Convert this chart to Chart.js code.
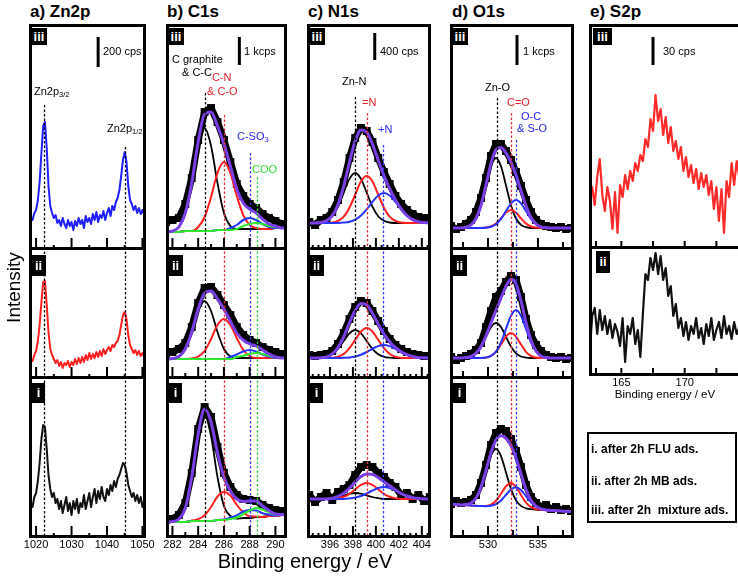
<!DOCTYPE html>
<html><head><meta charset="utf-8">
<script src="https://cdn.jsdelivr.net/npm/chart.js@4.4.1/dist/chart.umd.min.js"></script>
<style>
html,body{margin:0;padding:0;background:#fff;}
#stage{position:relative;width:738px;height:579px;overflow:hidden;font-family:'Liberation Sans',Arial,Helvetica,sans-serif;color:#000;}
canvas{position:absolute;z-index:1;}
.t{position:absolute;white-space:pre;line-height:1;font-size:11px;z-index:2;}
.t sub{font-size:7.5px;vertical-align:-2px;line-height:0;}
.ttl{position:absolute;white-space:pre;line-height:1;font-size:17px;font-weight:bold;z-index:2;}
.rl{position:absolute;background:#000;color:#fff;font-weight:bold;font-size:13px;text-align:center;z-index:3;}
.red{color:#e8202a}.blue{color:#2424f0}.green{color:#2fd82f}
#legend{position:absolute;left:587px;top:432px;width:150px;height:91px;box-sizing:border-box;border:2px solid #000;z-index:2;}
#legend div{position:absolute;left:2px;white-space:pre;font-weight:bold;font-size:12px;line-height:1;}
</style></head><body><div id="stage">
<div class="ttl" style="left:30px;top:3px">a) Zn2p</div>
<div class="ttl" style="left:167px;top:3px">b) C1s</div>
<div class="ttl" style="left:308px;top:3px">c) N1s</div>
<div class="ttl" style="left:452px;top:3px">d) O1s</div>
<div class="ttl" style="left:590px;top:3px">e) S2p</div>

<div class="t" style="left:103px;top:46px">200 cps</div>
<div class="t" style="left:244px;top:46px">1 kcps</div>
<div class="t" style="left:380px;top:46px">400 cps</div>
<div class="t" style="left:523px;top:46px">1 kcps</div>
<div class="t" style="left:663px;top:46px">30 cps</div>

<div class="t" style="left:34px;top:86px">Zn2p<sub>3/2</sub></div>
<div class="t" style="left:107px;top:123px">Zn2p<sub>1/2</sub></div>

<div class="t" style="left:172px;top:54px">C graphite</div>
<div class="t" style="left:182px;top:67px">&amp; C-C</div>
<div class="t red" style="left:212px;top:72px">C-N</div>
<div class="t red" style="left:207px;top:86px">&amp; C-O</div>
<div class="t blue" style="left:237px;top:131px">C-SO<sub>3</sub></div>
<div class="t green" style="left:252px;top:164px">COO</div>

<div class="t" style="left:342px;top:76px">Zn-N</div>
<div class="t red" style="left:362px;top:97px">=N</div>
<div class="t blue" style="left:378px;top:124px">+N</div>

<div class="t" style="left:485px;top:82px">Zn-O</div>
<div class="t red" style="left:507px;top:97px">C=O</div>
<div class="t blue" style="left:521px;top:111px">O-C</div>
<div class="t blue" style="left:517px;top:123px">&amp; S-O</div>

<div id="legend">
<div style="top:9px">i. after 2h FLU ads.</div>
<div style="top:41px">ii. after 2h MB ads.</div>
<div style="top:70px">iii. after 2h  mixture ads.</div>
</div>

<div style="position:absolute;left:-87px;top:278px;width:200px;height:19px;line-height:19px;font-size:19px;text-align:center;transform:rotate(-90deg);z-index:2">Intensity</div>
<div style="position:absolute;left:105px;top:551px;width:400px;line-height:1;font-size:20px;text-align:center;z-index:2">Binding energy / eV</div>
</div>
<script>
// ===================== DATA =====================
// a) Zn2p
const znEnergy = [1018,1018.5,1019,1019.5,1020,1020.5,1021,1021.5,1022,1022.5,1023,1023.5,1024,1024.5,1025,1025.5,1026,1026.5,1027,1027.5,1028,1028.5,1029,1029.5,1030,1030.5,1031,1031.5,1032,1032.5,1033,1033.5,1034,1034.5,1035,1035.5,1036,1036.5,1037,1037.5,1038,1038.5,1039,1039.5,1040,1040.5,1041,1041.5,1042,1042.5,1043,1043.5,1044,1044.5,1045,1045.5,1046,1046.5,1047,1047.5,1048,1048.5,1049,1049.5,1050,1050.5,1051];
const znMixture = [22,30,28,35,38,48,66,95,122,126,100,62,42,35,30,33,25,28,22,30,24,20,28,22,26,18,27,22,30,24,28,20,32,26,30,24,34,28,36,26,33,30,37,28,35,40,32,42,38,46,50,58,72,88,96,86,62,48,44,38,42,35,40,34,38,33,36];
const znMB = [14,18,16,22,26,36,52,75,95,96,72,45,28,22,18,14,17,11,15,9,14,12,16,10,15,12,18,13,19,14,20,15,22,17,24,18,23,19,25,20,26,21,28,23,27,30,26,32,30,34,36,42,52,62,65,58,42,32,28,24,27,22,26,21,24,20,23];
const znFLU = [24,34,30,40,44,56,74,98,112,110,88,62,48,40,44,34,38,28,36,24,32,40,26,34,22,36,28,38,24,34,30,42,28,36,44,30,40,48,34,46,38,50,40,36,48,42,52,46,56,50,58,62,68,74,72,64,52,46,40,44,36,42,34,40,30,36,32];
const znPeakPos = [1022.3, 1045.0];
const znTickLabels = [1020, 1030, 1040, 1050];

// b) C1s
const c1sEnergy = [281.5,282,282.5,283,283.5,284,284.5,285,285.5,286,286.5,287,287.5,288,288.5,289,289.5,290,290.5,291];
const c1sDataIII = [26,28,30,44,70,108,136,140,126,108,86,64,52,44,40,34,30,27,24,22];
const c1sFitIII = [16,17,21,35,65,106,134,136,122,104,82,59,45,39,35,29,24,22,20,20];
const c1sCCIII = [16,17,21,35,64,102,120,102,65,35,22,19,19,19,19,19,19,20,20,20];
const c1sCNIII = [16,16,16,17,17,21,31,51,75,86,75,52,33,23,20,19,19,20,20,20];
const c1sCSIII = [16,16,16,17,17,17,17,17,18,18,20,23,28,30,28,24,21,20,20,20];
const c1sCOOIII = [16,16,16,17,17,17,17,17,18,18,18,19,22,24,25,24,22,21,20,20];
const c1sDataII = [24,25,28,34,50,74,89,90,82,72,62,50,42,37,34,30,27,25,23,22];
const c1sFitII = [18,18.4,20.5,28,45,68,84,86,78,68,56,44,37,33,31,27,23,20,19,19];
const c1sCCII = [18,18.5,20.5,28,45,66,76,66,45,28,20.5,19,19,19,19,19,19,19,19,19];
const c1sCNII = [18,18,18,18,18.5,20.5,26,38,52,58,52,39,27,21,19,19,19,19,19,19];
const c1sCSII = [18,18,18,18,18,18,18,18,18,18,20,22.5,25.5,27,25.5,22.5,20.5,19,19,19];
const c1sCOOII = [18,18,18,18,18,18,18,18,18,18,18,20,21.3,23,24,23,21.3,20,19,19];
const c1sDataI = [17,18,22,34,64,108,130,120,90,64,50,42,38,37,36,32,29,27,26,25];
const c1sFitI = [15,15.4,18,29,60,103,128,115,84,60,46,38,35.5,36,36,31,26.5,23,22.5,22];
const c1sCCI = [15,15.4,18,29,59,101,122,101,60,31,21,18.4,19,19,20,20,21,21,22,22];
const c1sCNI = [15,15,15,15,16.4,17.8,21.8,30,40.5,45,41.5,32,24.8,20.8,20.4,20,21,21,22,22];
const c1sCSI = [15,15,15,15,16,16,16,16,17,17.5,19.5,21.7,25.5,27,26.6,23.7,22.4,21.3,22,22];
const c1sCOOI = [15,15,15,15,16,16,16,16,17,17,18,19.5,23,26.5,29,27.5,25,22.5,22.4,22];
const c1sPeakPos = [284.5, 286.0, 288.0, 288.6];
const c1sTickLabels = [282, 284, 286, 288, 290];

// c) N1s
const n1sEnergy = [393.7,394.2,394.7,395.2,395.7,396.2,396.7,397.2,397.7,398.2,398.7,399.2,399.7,400.2,400.7,401.2,401.7,402.2,402.7,403.2,403.7,404.2,404.7,405.2];
const n1sDataIII = [22,26,23,28,30,36,48,66,90,110,120,117,106,90,76,64,52,44,38,34,31,30,28,27];
const n1sFitIII = [25,25,25,25.5,27.2,32.3,43.4,62,85.7,106.9,118.1,116,104,87.8,72.5,59.3,48.3,39.2,32.5,28.4,26.3,25.4,25,25];
const n1sZnNIII = [25,25,25,25.5,27.2,31.8,41.3,55.4,69.1,75,69.1,55.4,41.3,31.8,27.2,25.5,25,25,25,25,25,25,25,25];
const n1sEqNIII = [25,25,25,25,25,25.5,27.1,31.3,40.3,53.5,66.5,72,66.5,53.5,40.3,31.3,27.1,25.5,25,25,25,25,25,25];
const n1sPlusNIII = [25,25,25,25,25,25,25,25.4,26.3,28.4,32.5,38.7,46.2,52.5,55,52.5,46.2,38.7,32.5,28.4,26.3,25.4,25,25];
const n1sDataII = [20,22,21,22,23,26,33,44,58,70,76,74,66,56,46,38,32,28,25,23,22,21,21,20];
const n1sFitII = [19,19,19,19.3,20.2,23.1,29.4,40.3,54,66.7,73.5,72,63.8,52.9,43,35.3,29.5,25.3,22.3,20.5,19.6,19.2,19,19];
const n1sZnNII = [19,19,19,19.3,20.2,22.8,28.1,36,43.7,47,43.7,36,28.1,22.8,20.2,19.3,19,19,19,19,19,19,19,19];
const n1sEqNII = [19,19,19,19,19,19.3,20.3,23.1,28.8,37.2,45.5,49,45.5,37.2,28.8,23.1,20.3,19.3,19,19,19,19,19,19];
const n1sPlusNII = [19,19,19,19,19,19,19,19.2,19.6,20.5,22.3,25,28.2,30.9,32,30.9,28.2,25,22.3,20.5,19.6,19.2,19,19];
const n1sDataI = [36,42,35,40,44,37,45,48,52,62,70,72,70,64,60,54,50,42,44,38,42,36,40,38];
const n1sFitI = [38,38,38,38,38,38.8,40.7,43.8,49,55.1,60.4,63.1,62.6,59.5,55.2,51.2,47.2,43.5,41,39.4,38.5,38,38,38];
const n1sZnNI = [38,38,38,38,38,38.8,40,41.6,43.3,44,43.3,41.6,40,38.8,38,38,38,38,38,38,38,38,38,38];
const n1sEqNI = [38,38,38,38,38,38,38.7,40.2,43.2,47.7,52.1,54,52.1,47.7,43.2,40.2,38.7,38,38,38,38,38,38,38];
const n1sPlusNI = [38,38,38,38,38,38,38,38,38.5,39.4,41,43.5,46.5,49,50,49,46.5,43.5,41,39.4,38.5,38,38,38];
const n1sPeakPos = [398.2, 399.2, 400.6];
const n1sTickLabels = [396, 398, 400, 402, 404];

// d) O1s
const o1sEnergy = [525.8,526.3,526.8,527.3,527.8,528.3,528.8,529.3,529.8,530.3,530.8,531.3,531.8,532.3,532.8,533.3,533.8,534.3,534.8,535.3,535.8,536.3,536.8,537.3,537.8,538.3,538.8,539.3];
const o1sDataIII = [20,22,19,21,24,28,36,50,70,92,104,104,97,88,76,62,48,36,28,24,22,21,20,21,19,20,21,20];
const o1sFitIII = [20,20,20,20,20.8,23.1,29.5,42.8,63.2,84.4,98.3,100.5,94.9,85.5,72.9,57.5,42.3,30.6,24.2,21.2,20.3,20,20,20,20,20,20,20];
const o1sZnOIII = [20,20,20,20,20.8,23.1,29.5,42.8,62.5,81.7,90,81.7,62.5,42.8,29.5,23.1,20.8,20,20,20,20,20,20,20,20,20,20,20];
const o1sCOIII = [20,20,20,20,20,20,20,20,20.4,21.5,24.5,29.7,35.4,38,35.4,29.7,24.5,21.5,20.4,20,20,20,20,20,20,20,20,20];
const o1sOCIII = [20,20,20,20,20,20,20,20,20.3,21.2,23.8,29.1,37,44.7,48,44.7,37,29.1,23.8,21.2,20.3,20,20,20,20,20,20,20];
const o1sDataII = [18,20,17,19,21,23,27,34,50,66,80,86,95,101,97,80,58,42,32,26,22,20,19,20,18,19,20,19];
const o1sFitII = [19,19,19,19,19.4,20.5,23.7,30.4,41.2,54.1,66.7,79,90.7,97.7,93.1,76.3,54.7,36.7,26,21.1,19.5,19,19,19,19,19,19,19];
const o1sZnOII = [19,19,19,19,19.4,20.5,23.7,30.4,40.2,49.9,54,49.9,40.2,30.4,23.7,20.5,19.4,19,19,19,19,19,19,19,19,19,19,19];
const o1sCOII = [19,19,19,19,19,19,19,19,19.5,21.1,25.2,32.5,40.4,44,40.4,32.5,25.2,21.1,19.5,19,19,19,19,19,19,19,19,19];
const o1sOCII = [19,19,19,19,19,19,19,19,19.5,21.1,25.5,34.6,48.1,61.3,67,61.3,48.1,34.6,25.5,21.1,19.5,19,19,19,19,19,19,19];
const o1sDataI = [35,33,36,34,35,37,42,54,72,92,104,108,106,98,86,70,52,40,34,30,32,28,30,27,28,26,27,25];
const o1sFitI = [33,32.7,32.4,32.1,32.4,34.1,39,49.8,66.5,84.5,97,101.2,98.7,91.5,79,63.1,47.6,36.7,30.8,28.1,27.1,26.6,26.3,26,25.7,25.4,25.1,24.8];
const o1sZnOI = [33,32.7,32.4,32.1,32.4,34.1,39,49.8,65.8,81.5,88,80.9,64.6,48,36.6,31.1,28.7,27.8,27.5,27.2,26.9,26.6,26.3,26,25.7,25.4,25.1,24.8];
const o1sCOI = [33,32.7,32.4,32.1,31.8,31.5,31.2,30.9,31.1,32.4,36.2,43.2,50.8,54.1,50.2,42,34.3,29.9,28,27.2,26.9,26.6,26.3,26,25.7,25.4,25.1,24.8];
const o1sOCI = [33,32.7,32.4,32.1,31.8,31.5,31.2,30.9,30.8,31.2,32.8,36.5,42.1,47.6,49.8,47,40.8,34.6,30.3,28.1,27.1,26.6,26.3,26,25.7,25.4,25.1,24.8];
const o1sPeakPos = [530.9, 532.3, 532.8];
const o1sTickLabels = [530, 535];

// e) S2p
const s2pEnergy = [162.5,162.7,162.9,163.1,163.3,163.5,163.7,163.9,164.1,164.3,164.5,164.7,164.9,165.1,165.3,165.5,165.7,165.9,166.1,166.3,166.5,166.7,166.9,167.1,167.3,167.5,167.7,167.9,168.1,168.3,168.5,168.7,168.9,169.1,169.3,169.5,169.7,169.9,170.1,170.3,170.5,170.7,170.9,171.1,171.3,171.5,171.7,171.9,172.1,172.3,172.5,172.7,172.9,173.1,173.3,173.5,173.7,173.9,174.1,174.3];
const s2pMixture = [48,60,42,70,88,52,36,60,46,18,55,14,62,50,72,58,76,66,84,76,92,86,108,100,128,116,152,126,138,112,130,104,120,96,106,88,100,76,90,70,82,64,78,58,74,60,72,52,66,38,60,26,58,14,66,50,84,62,86,70];
const s2pMB = [20,58,66,40,64,44,58,40,54,36,50,42,28,56,12,48,40,56,30,44,17,60,100,94,116,104,121,100,118,94,106,78,88,58,70,46,56,38,52,34,48,40,56,36,46,30,50,38,56,34,44,52,36,58,40,48,35,52,40,46];
const s2pTickLabels = [165, 170];

// ===================== DRAWING =====================
Chart.defaults.font.family = "'Liberation Sans', Arial, Helvetica, sans-serif";
Chart.defaults.color = '#000';
const stage = document.getElementById('stage');
const M = 20;
const PURPLE = '#7a3fe6', RED = '#ff1f1f', BLUE = '#2633ff', GREEN = '#2ee82e';
const MK = ['#000', '#e0303a', '#3a3aff', '#2fd82f'];

function makeDeco(o) {
  return {
    id: 'deco',
    afterDatasetsDraw(chart) {
      const {ctx, chartArea: a} = chart;
      const x = chart.scales.x, y = chart.scales.y;
      ctx.save();
      ctx.beginPath(); ctx.rect(a.left, a.top, a.right - a.left, a.bottom - a.top); ctx.clip();
      ctx.lineWidth = 1.3; ctx.setLineDash([2.5, 2]);
      for (const m of (o.markers || [])) {
        const px = Math.round(x.getPixelForValue(m.x)) + 0.5;
        const top = (m.from == null) ? a.top : y.getPixelForValue(m.from);
        ctx.strokeStyle = m.color;
        ctx.beginPath(); ctx.moveTo(px, top); ctx.lineTo(px, a.bottom); ctx.stroke();
      }
      ctx.setLineDash([]);
      ctx.strokeStyle = '#000'; ctx.lineWidth = 2;
      for (const t of (o.ticks || [])) {
        const px = x.getPixelForValue(t.v);
        ctx.beginPath(); ctx.moveTo(px, a.bottom); ctx.lineTo(px, a.bottom - t.l); ctx.stroke();
      }
      if (o.bar) {
        const px = x.getPixelForValue(o.bar.x);
        ctx.lineWidth = 3;
        ctx.beginPath(); ctx.moveTo(px, y.getPixelForValue(o.bar.y0)); ctx.lineTo(px, y.getPixelForValue(o.bar.y1)); ctx.stroke();
      }
      ctx.lineWidth = 3;
      ctx.strokeRect(a.left + 1.5, a.top + 1.5, a.right - a.left - 3, a.bottom - a.top - 3);
      ctx.restore();
    }
  };
}

function makeRow(p, r, datasets, deco, axis) {
  const h = r.FB - r.T;
  const axisH = axis ? axis.h : 0;
  const W = p.w + 2 * M, H = h + axisH;
  const cv = document.createElement('canvas');
  cv.width = W; cv.height = H;
  cv.style.left = (p.left - M) + 'px'; cv.style.top = r.T + 'px';
  cv.style.width = W + 'px'; cv.style.height = H + 'px';
  stage.appendChild(cv);
  const xScale = {type: 'linear', min: p.xmin, max: p.xmax, display: !!axis};
  if (axis) {
    Object.assign(xScale, {
      grid: {display: false, drawTicks: false},
      border: {display: false},
      ticks: {autoSkip: false, maxRotation: 0, padding: 0, font: {size: 11}, color: '#000', callback: v => String(v)},
      afterBuildTicks: s => { s.ticks = axis.labels.map(v => ({value: v})); },
      afterFit: s => { s.height = axis.h; },
      title: axis.title ? {display: true, text: axis.title, font: {size: 11.5}, padding: {top: 0, bottom: 4}, color: '#000'} : {display: false}
    });
  }
  return new Chart(cv, {
    type: 'line',
    data: {datasets},
    options: {
      responsive: false, animation: false, events: [],
      layout: {padding: {left: M, right: M, top: 0, bottom: 0}, autoPadding: false},
      plugins: {legend: {display: false}, tooltip: {enabled: false}},
      scales: {x: xScale, y: {type: 'linear', min: r.RB - r.FB, max: r.RB - r.T, display: false}},
      elements: {point: {radius: 0}}
    },
    plugins: [makeDeco(deco)]
  });
}

const pts = (xs, ys) => xs.map((x, i) => ({x, y: ys[i]}));
const curve = (xs, ys, color, w) => ({data: pts(xs, ys), borderColor: color, borderWidth: w, pointRadius: 0, cubicInterpolationMode: 'monotone', fill: false, clip: 0});
const noisy = (xs, ys, color, w) => ({data: pts(xs, ys), borderColor: color, borderWidth: w, pointRadius: 0, tension: 0, fill: false, clip: 0, borderJoinStyle: 'round'});
const dots = (xs, ys) => ({data: pts(xs, ys), borderColor: '#000', borderWidth: 7, pointRadius: 5.6, pointStyle: 'rect', pointBackgroundColor: '#000', pointBorderWidth: 0, tension: 0, fill: false, clip: 0, borderJoinStyle: 'round', borderCapStyle: 'round'});

const ROW = {iii: {T: 24, FB: 250, RB: 248}, ii: {T: 247, FB: 379, RB: 377}, i: {T: 376, FB: 538, RB: 537}};
const ROWE = {iii: {T: 24, FB: 249, RB: 247}, ii: {T: 246, FB: 376, RB: 374}};
const PA = {left: 29, w: 117, xmin: 1018, xmax: 1051};
const PB = {left: 166, w: 121, xmin: 281.5, xmax: 290.9};
const PC = {left: 307, w: 124, xmin: 394, xmax: 404.8};
const PD = {left: 450, w: 124, xmin: 526.2, xmax: 538.6};
const PE = {left: 589, w: 152, xmin: 162.45, xmax: 174.44};

function markers(pos, froms) { return pos.map((x, i) => ({x, color: MK[i], from: froms ? froms[i] : null})); }

// a) Zn2p
const aTicks = [1020, 1025, 1030, 1035, 1040, 1045, 1050].map(v => ({v, l: v % 10 === 0 ? 12 : 5}));
const aMk = pos => pos.map(x => ({x, color: '#000', from: null}));
makeRow(PA, ROW.iii, [noisy(znEnergy, znMixture, '#1f1fff', 2)], {ticks: aTicks, markers: [{x: znPeakPos[0], color: '#000', from: 143}, {x: znPeakPos[1], color: '#000', from: 101}], bar: {x: 1037.5, y0: 181, y1: 211}});
makeRow(PA, ROW.ii, [noisy(znEnergy, znMB, '#ff2020', 2)], {ticks: aTicks, markers: aMk(znPeakPos)});
makeRow(PA, ROW.i, [noisy(znEnergy, znFLU, '#111', 2)], {ticks: aTicks, markers: aMk(znPeakPos)}, {h: 16, labels: znTickLabels});

// b) C1s
const bTicks = [282, 283, 284, 285, 286, 287, 288, 289, 290].map(v => ({v, l: v % 2 === 0 ? 12 : 6}));
const bSets = (d, f, cc, cn, cs, coo) => [curve(c1sEnergy, f, PURPLE, 3), curve(c1sEnergy, coo, GREEN, 2.2), curve(c1sEnergy, cs, BLUE, 2), curve(c1sEnergy, cn, RED, 2), curve(c1sEnergy, cc, '#000', 1.8), dots(c1sEnergy, d)];
makeRow(PB, ROW.iii, bSets(c1sDataIII, c1sFitIII, c1sCCIII, c1sCNIII, c1sCSIII, c1sCOOIII), {ticks: bTicks, markers: markers(c1sPeakPos, [155, 133, 95, 71]), bar: {x: 287.2, y0: 183, y1: 211}});
makeRow(PB, ROW.ii, bSets(c1sDataII, c1sFitII, c1sCCII, c1sCNII, c1sCSII, c1sCOOII), {ticks: bTicks, markers: markers(c1sPeakPos)});
makeRow(PB, ROW.i, bSets(c1sDataI, c1sFitI, c1sCCI, c1sCNI, c1sCSI, c1sCOOI), {ticks: bTicks, markers: markers(c1sPeakPos)}, {h: 16, labels: c1sTickLabels});

// c) N1s
const cTickVals = []; for (let v = 394.5; v <= 404.6; v += 0.5) cTickVals.push(v);
const cTicks = cTickVals.map(v => ({v, l: Math.abs(v % 2) < 0.01 ? 12 : 5}));
const cSets = (d, f, zn, eq, pl) => [curve(n1sEnergy, f, PURPLE, 3), curve(n1sEnergy, pl, BLUE, 2), curve(n1sEnergy, eq, RED, 2), curve(n1sEnergy, zn, '#000', 1.8), dots(n1sEnergy, d)];
makeRow(PC, ROW.iii, cSets(n1sDataIII, n1sFitIII, n1sZnNIII, n1sEqNIII, n1sPlusNIII), {ticks: cTicks, markers: markers(n1sPeakPos, [151, 135, 103]), bar: {x: 399.9, y0: 188, y1: 215}});
makeRow(PC, ROW.ii, cSets(n1sDataII, n1sFitII, n1sZnNII, n1sEqNII, n1sPlusNII), {ticks: cTicks, markers: markers(n1sPeakPos)});
makeRow(PC, ROW.i, cSets(n1sDataI, n1sFitI, n1sZnNI, n1sEqNI, n1sPlusNI), {ticks: cTicks, markers: markers(n1sPeakPos)}, {h: 16, labels: n1sTickLabels});

// d) O1s
const dTicks = [527.5, 530, 532.5, 535, 537.5].map(v => ({v, l: v % 5 === 0 ? 12 : 8}));
const dSets = (d, f, zn, co, oc) => [curve(o1sEnergy, f, PURPLE, 3), curve(o1sEnergy, oc, BLUE, 2), curve(o1sEnergy, co, RED, 2), curve(o1sEnergy, zn, '#000', 1.8), dots(o1sEnergy, d)];
makeRow(PD, ROW.iii, dSets(o1sDataIII, o1sFitIII, o1sZnOIII, o1sCOIII, o1sOCIII), {ticks: dTicks, markers: markers(o1sPeakPos, [150, 135, 108]), bar: {x: 532.9, y0: 183, y1: 213}});
makeRow(PD, ROW.ii, dSets(o1sDataII, o1sFitII, o1sZnOII, o1sCOII, o1sOCII), {ticks: dTicks, markers: markers(o1sPeakPos)});
makeRow(PD, ROW.i, dSets(o1sDataI, o1sFitI, o1sZnOI, o1sCOI, o1sOCI), {ticks: dTicks, markers: markers(o1sPeakPos)}, {h: 16, labels: o1sTickLabels});

// e) S2p
const eTicks = [163, 165, 167.5, 170, 172.5].map(v => ({v, l: 8}));
makeRow(PE, ROWE.iii, [noisy(s2pEnergy, s2pMixture, '#ff2a2a', 2.2)], {ticks: eTicks, bar: {x: 167.5, y0: 182, y1: 210}});
makeRow(PE, ROWE.ii, [noisy(s2pEnergy, s2pMB, '#111', 2.2)], {ticks: eTicks}, {h: 30, labels: s2pTickLabels, title: 'Binding energy / eV'});

// row labels
const rowLabels = [];
[PA, PB, PC, PD].forEach(p => {
  rowLabels.push({t: 'iii', l: p.left + 2, top: 28, w: 16, h: 17});
  rowLabels.push({t: 'ii', l: p.left + 2, top: 255, w: 15, h: 21});
  rowLabels.push({t: 'i', l: p.left + 3, top: 383, w: 13, h: 20});
});
rowLabels.push({t: 'iii', l: 593, top: 28, w: 19, h: 17});
rowLabels.push({t: 'ii', l: 596, top: 251, w: 14, h: 22});
rowLabels.forEach(b => {
  const d = document.createElement('div');
  d.className = 'rl'; d.textContent = b.t;
  d.style.left = b.l + 'px'; d.style.top = b.top + 'px';
  d.style.width = b.w + 'px'; d.style.height = b.h + 'px'; d.style.lineHeight = b.h + 'px';
  stage.appendChild(d);
});
</script></body></html>
